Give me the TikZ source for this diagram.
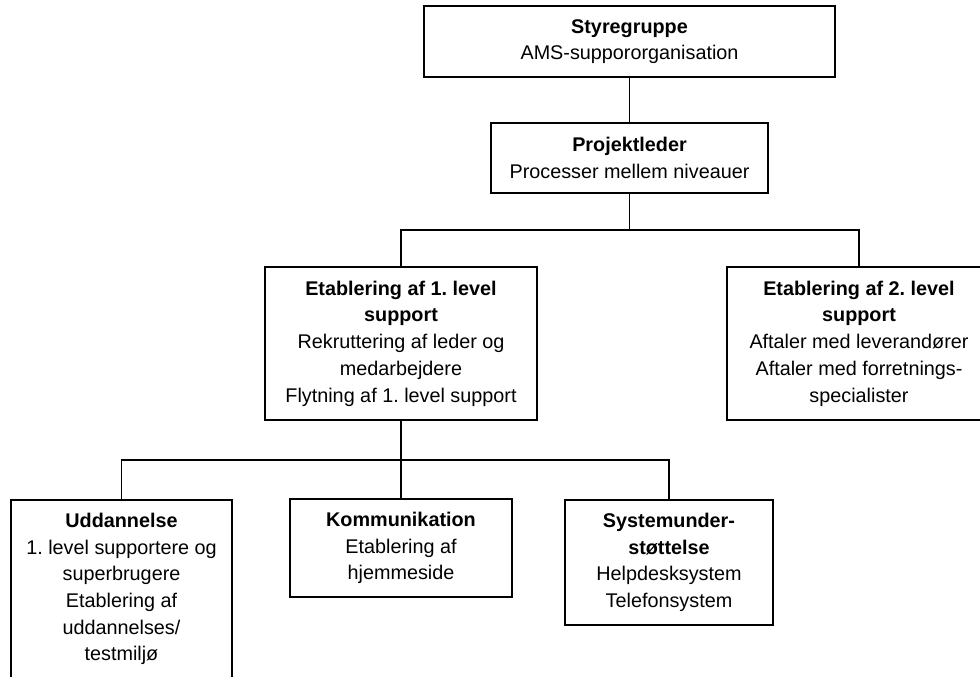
\documentclass[tikz,border=0pt]{standalone}
\usepackage{fontspec}
\setmainfont{Liberation Sans}
\frenchspacing
\tikzset{box/.style={draw, line width=1.3pt, align=center, inner sep=0pt, font=\fontsize{19.8}{26.7}\selectfont}}
\tikzset{link/.style={line width=1.3pt, black}}

\begin{document}
\begin{tikzpicture}[x=1pt, y=-1pt]
		\useasboundingbox (0,0) rectangle (980,677);
		\clip (0,0) rectangle (980,677);

		% Coordinates
		\coordinate (T) at (629.5,230);
		\coordinate (B) at (401,460);

		% Boxes
		\node[box, minimum width=411pt, minimum height=71pt] (styr) at (629.5,41.5) {\textbf{Styregruppe}\\AMS-suppororganisation};
		\node[box, minimum width=277pt, minimum height=70pt] (proj) at (629.5,158) {\textbf{Projektleder}\\Processer mellem niveauer};
		\node[box, minimum width=272pt, minimum height=153pt] (etab1) at (401,343.5) {\textbf{Etablering af 1. level}\\\textbf{support}\\Rekruttering af leder og\\medarbejdere\\Flytning af 1. level support};
		\node[box, minimum width=264pt, minimum height=153pt] (etab2) at (859,343.5) {\textbf{Etablering af 2. level}\\\textbf{support}\\Aftaler med leverandører\\Aftaler med forretnings-\\specialister};
		\node[box, minimum width=221pt, minimum height=178pt] (udd) at (121.5,589) {\textbf{Uddannelse}\\1. level supportere og\\superbrugere\\Etablering af\\uddannelses/\\testmiljø};
		\node[box, minimum width=222pt, minimum height=98pt] (komm) at (401,548) {\textbf{Kommunikation}\\Etablering af\\hjemmeside};
		\node[box, minimum width=208pt, minimum height=125pt] (sys) at (669,562.5) {\textbf{Systemunder-}\\\textbf{støttelse}\\Helpdesksystem\\Telefonsystem};

		% Links
		\draw[link] (styr) -- (proj);
		\draw[link] (proj) -- (T);
		\draw[link] (etab1.north) |- (T) -| (etab2.north);
		\draw[link] (etab1) -- (B);
		\draw[link] (udd.north) |- (B) -| (sys.north);
		\draw[link] (B) -- (komm);
	\end{tikzpicture}
\end{document}
